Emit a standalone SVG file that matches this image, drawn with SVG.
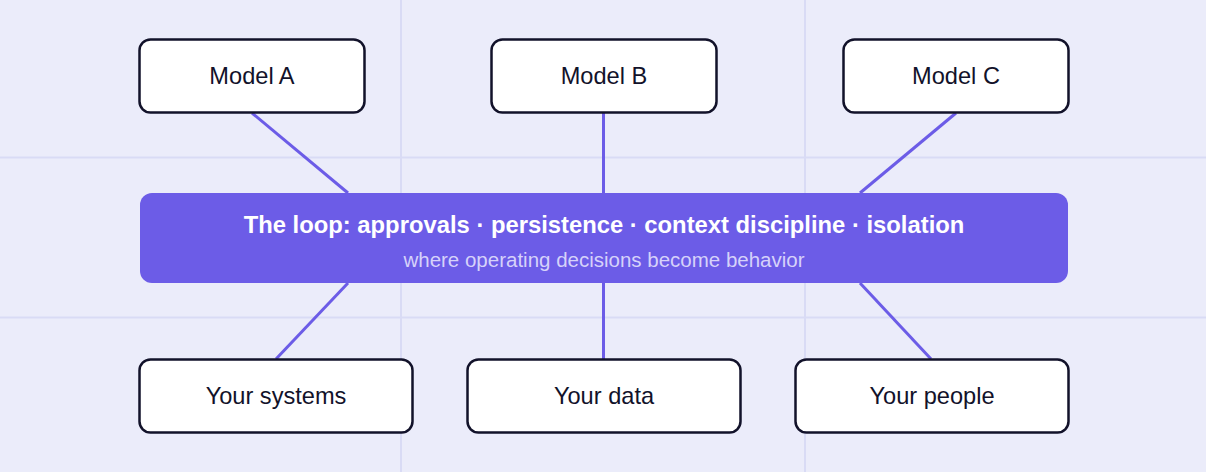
<svg xmlns="http://www.w3.org/2000/svg" width="1206" height="472" viewBox="0 0 1206 472">
<style>
.grid{stroke:#d9dbf5;stroke-width:2}
.node rect{fill:#ffffff;stroke:#12122a;stroke-width:2.5}
.node text{font-family:"Liberation Sans",Arial,sans-serif;font-size:23.6px;fill:#12122a;text-anchor:middle}
.conn line{stroke:#6c5ce7;stroke-width:3}
.title{font-family:"Liberation Sans",Arial,sans-serif;font-size:23.8px;font-weight:bold;fill:#ffffff;text-anchor:middle}
.sub{font-family:"Liberation Sans",Arial,sans-serif;font-size:20.5px;fill:#d6d2fa;text-anchor:middle}
</style>
<rect width="1206" height="472" fill="#ebecfa"/>
<g id="grid">
<line class="grid" x1="401" y1="0" x2="401" y2="472"/>
<line class="grid" x1="805" y1="0" x2="805" y2="472"/>
<line class="grid" x1="0" y1="157.5" x2="1206" y2="157.5"/>
<line class="grid" x1="0" y1="317.5" x2="1206" y2="317.5"/>
</g>
<g id="connectors" class="conn">
<line x1="252" y1="113" x2="348" y2="193"/>
<line x1="603.5" y1="113" x2="603.5" y2="193"/>
<line x1="956" y1="113" x2="860" y2="193"/>
<line x1="348" y1="283" x2="276" y2="359"/>
<line x1="603.5" y1="283" x2="603.5" y2="359"/>
<line x1="860" y1="283" x2="931" y2="359"/>
</g>
<g id="model-a" class="node"><rect x="139.5" y="39.5" width="225" height="73" rx="11"/><text x="252" y="84">Model A</text></g>
<g id="model-b" class="node"><rect x="491.5" y="39.5" width="225" height="73" rx="11"/><text x="604" y="84">Model B</text></g>
<g id="model-c" class="node"><rect x="843.5" y="39.5" width="225" height="73" rx="11"/><text x="956" y="84">Model C</text></g>
<g id="loop">
<rect x="140" y="193" width="928" height="90" rx="12" fill="#6c5ce7"/>
<text class="title" x="604" y="233">The loop: approvals · persistence · context discipline · isolation</text>
<text class="sub" x="604" y="267">where operating decisions become behavior</text>
</g>
<g id="your-systems" class="node"><rect x="139.5" y="359.5" width="273" height="73" rx="11"/><text x="276" y="404">Your systems</text></g>
<g id="your-data" class="node"><rect x="467.5" y="359.5" width="273" height="73" rx="11"/><text x="604" y="404">Your data</text></g>
<g id="your-people" class="node"><rect x="795.5" y="359.5" width="273" height="73" rx="11"/><text x="932" y="404">Your people</text></g>
</svg>
